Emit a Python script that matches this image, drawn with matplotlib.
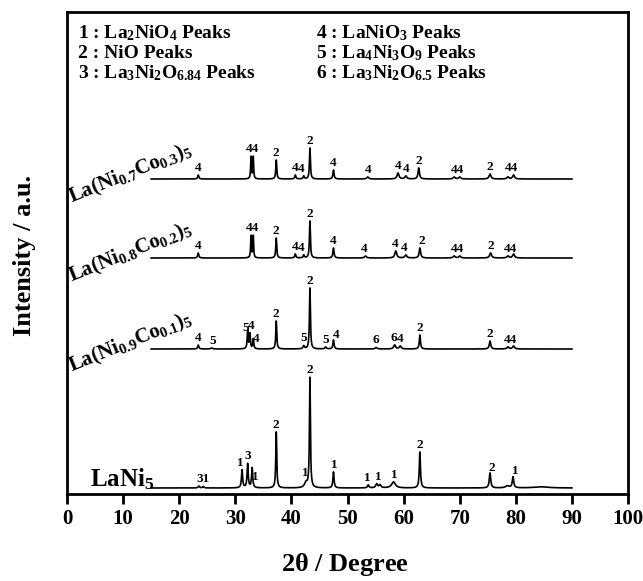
import numpy as np
import matplotlib
matplotlib.use("Agg")
import matplotlib.pyplot as plt

plt.rcParams['font.family'] = ['Liberation Serif', 'DejaVu Serif']
plt.rcParams['font.weight'] = 'bold'
plt.rcParams['mathtext.fontset'] = 'custom'
plt.rcParams['mathtext.rm'] = 'Liberation Serif:bold'
plt.rcParams['mathtext.it'] = 'Liberation Serif:bold'
plt.rcParams['mathtext.bf'] = 'Liberation Serif:bold'

# sample names and vertical offsets of each pattern (a.u.)
names = [r"LaNi$_5$",
         r"La(Ni$_{0.9}$Co$_{0.1}$)$_5$",
         r"La(Ni$_{0.8}$Co$_{0.2}$)$_5$",
         r"La(Ni$_{0.7}$Co$_{0.3}$)$_5$"]
offsets = [6, 145, 236, 315]

# peak positions (2theta), heights (a.u.) and half widths
pos_lani5 = [23.5, 24.3, 31.2, 32.2, 33.0, 37.3, 42.6, 43.3, 47.5, 53.7, 55.2, 55.8, 58.2, 62.9, 75.4, 78.5, 79.5, 84.5]
hgt_lani5 = [2, 1.5, 18, 24, 20, 56, 5, 110, 16, 3, 4, 3, 6, 36, 15, 2, 11, 1.2]
wid_lani5 = [0.15, 0.15, 0.12, 0.12, 0.12, 0.1, 0.3, 0.1, 0.12, 0.15, 0.2, 0.2, 0.4, 0.12, 0.15, 0.4, 0.15, 1.5]

pos_co1 = [23.4, 25.8, 32.2, 32.6, 33.2, 37.3, 42.2, 43.3, 46.1, 47.5, 55.1, 58.4, 59.4, 62.9, 75.4, 78.6, 79.6]
hgt_co1 = [4, 1, 18, 15, 10, 28, 3, 61, 2, 9, 1.5, 4, 3, 14, 8, 2, 3]
wid_co1 = [0.12, 0.2, 0.1, 0.1, 0.1, 0.1, 0.15, 0.1, 0.15, 0.12, 0.2, 0.2, 0.2, 0.12, 0.15, 0.2, 0.2]

pos_co2 = [23.4, 32.8, 33.2, 37.3, 40.7, 42.2, 43.3, 47.5, 53.2, 58.6, 60.4, 62.9, 69.0, 70.0, 75.5, 78.6, 79.6]
hgt_co2 = [5, 22, 22, 20, 4, 3, 37, 10, 2, 7, 3, 10, 2, 2, 5, 2, 4]
wid_co2 = [0.12, 0.08, 0.08, 0.1, 0.12, 0.12, 0.1, 0.12, 0.2, 0.2, 0.2, 0.15, 0.2, 0.2, 0.2, 0.2, 0.2]

pos_co3 = [23.4, 32.8, 33.2, 37.3, 40.7, 42.2, 43.3, 47.5, 53.6, 59.0, 60.4, 62.7, 69.0, 70.0, 75.4, 78.6, 79.6]
hgt_co3 = [4, 22, 22, 19, 4, 3, 31, 9, 2, 6, 3, 11, 2, 2, 5, 2, 4]
wid_co3 = [0.12, 0.08, 0.08, 0.1, 0.12, 0.12, 0.1, 0.12, 0.2, 0.2, 0.2, 0.15, 0.2, 0.2, 0.2, 0.2, 0.2]

# peak index labels (position, text)
lab_lani5 = [(24.2, '31'), (30.9, '1'), (32.3, '3'), (33.6, '1'), (37.3, '2'), (42.4, '1'), (43.3, '2'),
             (47.6, '1'), (53.6, '1'), (55.5, '1'), (58.4, '1'), (62.9, '2'), (75.8, '2'), (79.9, '1')]
lab_co1 = [(23.4, '4'), (26.0, '5'), (31.8, '5'), (32.8, '4'), (33.7, '4'), (37.3, '2'), (42.2, '5'), (43.3, '2'),
           (46.1, '5'), (47.9, '4'), (55.1, '6'), (58.2, '6'), (59.4, '4'), (62.9, '2'), (75.4, '2'), (79.0, '44')]
lab_co2 = [(23.4, '4'), (33.0, '44'), (37.3, '2'), (40.7, '4'), (41.8, '4'), (43.3, '2'), (47.5, '4'), (53.0, '4'),
           (58.5, '4'), (60.1, '4'), (63.2, '2'), (69.6, '44'), (75.6, '2'), (79.0, '44')]
lab_co3 = [(23.4, '4'), (33.0, '44'), (37.3, '2'), (40.7, '4'), (41.8, '4'), (43.3, '2'), (47.5, '4'), (53.6, '4'),
           (59.0, '4'), (60.4, '4'), (62.7, '2'), (69.6, '44'), (75.4, '2'), (79.2, '44')]

legend_left = ["1 : La$_2$NiO$_4$ Peaks", "2 : NiO Peaks", "3 : La$_3$Ni$_2$O$_{6.84}$ Peaks"]
legend_right = ["4 : LaNiO$_3$ Peaks", "5 : La$_4$Ni$_3$O$_9$ Peaks", "6 : La$_3$Ni$_2$O$_{6.5}$ Peaks"]

peaks = [(pos_lani5, hgt_lani5, wid_lani5), (pos_co1, hgt_co1, wid_co1),
         (pos_co2, hgt_co2, wid_co2), (pos_co3, hgt_co3, wid_co3)]
labels = [lab_lani5, lab_co1, lab_co2, lab_co3]

x = np.arange(15, 90.001, 0.02)


def profile(pos, hgt, wid):
    y = np.zeros_like(x)
    for p, h, w in zip(pos, hgt, wid):
        y += h / (1 + ((x - p) / w) ** 2)
    return y


fig = plt.figure(figsize=(6.43, 5.81), dpi=100)
ax = fig.add_axes([67 / 643, 87 / 581, 561 / 643, 482 / 581])

for i in range(4):
    y = profile(*peaks[i])
    ax.plot(x, y + offsets[i], color='black', lw=1.2)
    for lx, txt in labels[i]:
        m = (x > lx - 0.35) & (x < lx + 0.35)
        ax.text(lx, offsets[i] + y[m].max() + 1, txt, ha='center', va='bottom',
                fontsize=9.5, fontweight='bold')

# sample names
ax.text(4.1, 8, names[0], fontsize=18, fontweight='bold', ha='left', va='baseline')
for i, ty in zip([1, 2, 3], [122, 212, 291]):
    ax.text(0.9, ty, names[i], fontsize=15, fontweight='bold', rotation=22,
            rotation_mode='anchor', ha='left', va='baseline')

# legend text
for k, t in enumerate(legend_left):
    ax.text(2.0, 456 - k * 20, t, fontsize=14, fontweight='bold', ha='left', va='baseline')
for k, t in enumerate(legend_right):
    ax.text(44.3, 456 - k * 20, t, fontsize=14, fontweight='bold', ha='left', va='baseline')

ax.set_xlim(0, 100)
ax.set_ylim(0, 482)
ax.set_xticks(np.arange(0, 101, 10))
ax.set_yticks([])
ax.tick_params(axis='x', direction='out', length=7, width=2, labelsize=15, pad=4)
for lbl in ax.get_xticklabels():
    lbl.set_fontweight('bold')
for s in ax.spines.values():
    s.set_linewidth(2)

fig.text(345 / 643, 1 - 565 / 581, r"2$\theta$ / Degree", fontsize=19, fontweight='bold',
         ha='center', va='center')
fig.text(24 / 643, 1 - 255 / 581, "Intensity / a.u.", fontsize=19, fontweight='bold',
         ha='center', va='center', rotation=90)

fig.savefig('out.png', dpi=100)
